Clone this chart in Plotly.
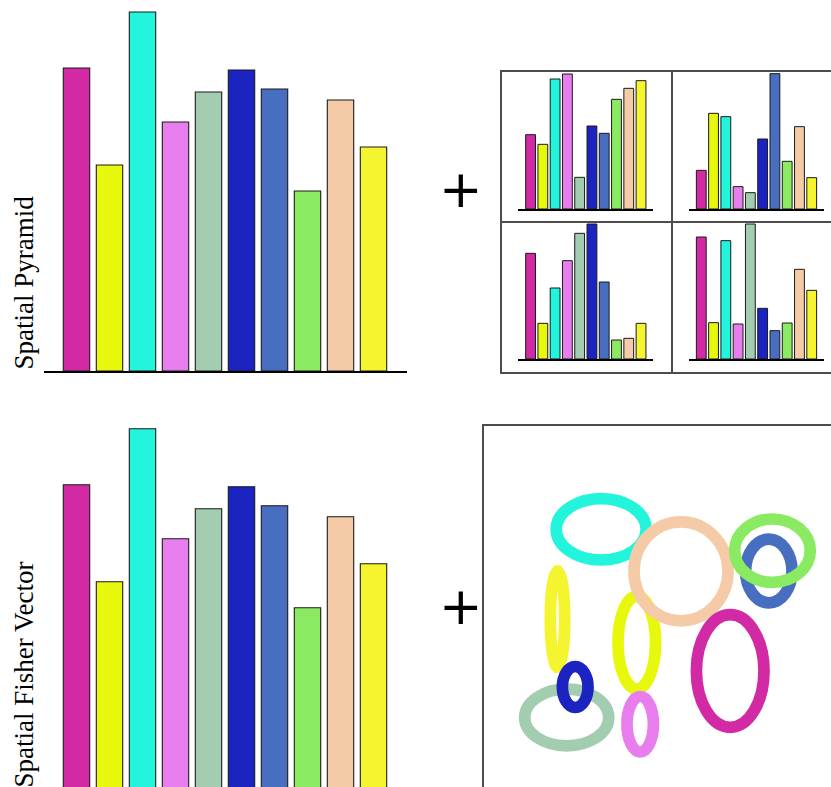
import plotly.graph_objects as go

W, H = 831, 787

# ---- data ----
words = ["w1", "w2", "w3", "w4", "w5", "w6", "w7", "w8", "w9", "w10"]
colors = ["#D12AA4", "#E7F80C", "#22F5DB", "#E87EEE", "#A3CDB0",
          "#1B23C0", "#476EBF", "#8AEB62", "#F5CBA7", "#F4F52E"]

global_hist = [3.03, 2.06, 3.59, 2.49, 2.79, 3.01, 2.82, 1.80, 2.71, 2.24]

cell_tl = [2.23, 1.94, 3.90, 4.05, 0.95, 2.49, 2.27, 3.29, 3.62, 3.85]
cell_tr = [1.16, 2.87, 2.77, 0.67, 0.49, 2.10, 4.06, 1.43, 2.47, 0.94]
cell_bl = [3.17, 1.07, 2.13, 2.95, 3.77, 4.05, 2.31, 0.57, 0.62, 1.07]
cell_br = [3.66, 1.09, 3.55, 1.05, 4.05, 1.52, 0.85, 1.08, 2.69, 2.06]

# Gaussian components (ellipse centre, semi-axes) in a 0..100 box
ell_order = [2, 1, 8, 6, 7, 9, 4, 5, 3, 0]
ell_cx = [68.53, 42.58, 32.69, 43.53, 23.11, 25.47, 79.25, 80.28, 54.86, 20.56]
ell_cy = [31.94, 39.81, 71.31, 17.17, 19.03, 27.50, 59.72, 65.36, 59.64, 46.39]
ell_rx = [9.39, 5.22, 12.50, 3.67, 11.67, 3.56, 6.44, 10.50, 13.06, 2.00]
ell_ry = [15.64, 12.86, 8.53, 7.69, 7.86, 5.69, 8.83, 8.80, 13.75, 13.40]

label_top = "Spatial Pyramid"
label_bottom = "Spatial Fisher Vector"
plus_sign = "+"


def fx(px):
    return px / W


def fy(px):
    return 1 - px / H


fig = go.Figure()
layout = dict(width=W, height=H, margin=dict(l=0, r=0, t=0, b=0),
              paper_bgcolor="white", plot_bgcolor="rgba(0,0,0,0)",
              showlegend=False, bargap=0.2)

hidden = dict(showgrid=False, zeroline=False, showticklabels=False, ticks="")


def add_bars(n, values, xdom, ydom, yrange, baseline=True, lw=1.1):
    xa = "x" if n == 1 else f"x{n}"
    ya = "y" if n == 1 else f"y{n}"
    fig.add_trace(go.Bar(x=words, y=values, xaxis=xa, yaxis=ya,
                         marker=dict(color=colors, line=dict(color="#1a1a1a", width=lw)),
                         hoverinfo="skip"))
    layout["xaxis" if n == 1 else f"xaxis{n}"] = dict(
        domain=xdom, range=[-1, 10], anchor=ya, type="category",
        showline=baseline, linecolor="black", linewidth=1.6, **hidden)
    layout["yaxis" if n == 1 else f"yaxis{n}"] = dict(
        domain=ydom, range=yrange, anchor=xa, showline=False, **hidden)


# big global histograms
add_bars(1, global_hist, [fx(43.5), fx(406.5)], [fy(371), fy(0)], [0, 3.71])
add_bars(2, global_hist, [fx(43.5), fx(406.5)], [0, fy(416.7)], [0.007, 3.71], baseline=False)

# 2x2 spatial pyramid cells
cells = [(cell_tl, 0, 209), (cell_tr, 170.7, 209), (cell_bl, 0, 359), (cell_br, 170.7, 359)]
for i, (vals, dx, base) in enumerate(cells):
    add_bars(3 + i, vals, [fx(518.3 + dx), fx(653.3 + dx)],
             [fy(base), fy(base - 139)], [0, 4.17], lw=1.0)

# pyramid frame (axes lines + gridlines as cell dividers)
fig.add_trace(go.Scatter(x=[], y=[], xaxis="x7", yaxis="y7"))
layout["xaxis7"] = dict(domain=[fx(501.5), 1], range=[0, (W - 501.5) / 170.7], anchor="y7",
                        showline=True, mirror=True, linecolor="#4d4d4d", linewidth=1.5,
                        showgrid=True, tickvals=[1], gridcolor="#4d4d4d", gridwidth=1.5,
                        zeroline=False, showticklabels=False, ticks="")
layout["yaxis7"] = dict(domain=[fy(371.7), fy(71.7)], range=[0, 2], anchor="x7",
                        showline=True, mirror=False, linecolor="#4d4d4d", linewidth=1.5,
                        showgrid=True, tickvals=[1], gridcolor="#4d4d4d", gridwidth=1.5,
                        zeroline=False, showticklabels=False, ticks="")

# Fisher vector box with Gaussian ellipses
fig.add_trace(go.Scatter(x=[], y=[], xaxis="x8", yaxis="y8"))
layout["xaxis8"] = dict(domain=[fx(483.5), 1], range=[0, (W - 483.5) / 3.6], anchor="y8",
                        side="top", showline=True, linecolor="#4d4d4d", linewidth=1.6,
                        **hidden)
layout["yaxis8"] = dict(domain=[0, fy(426)], range=[100 - (H - 426) / 3.6, 100], anchor="x8",
                        showline=True, linecolor="#4d4d4d", linewidth=1.6, **hidden)

shapes = []
for k in ell_order:
    shapes.append(dict(type="circle", xref="x8", yref="y8",
                       x0=ell_cx[k] - ell_rx[k], x1=ell_cx[k] + ell_rx[k],
                       y0=ell_cy[k] - ell_ry[k], y1=ell_cy[k] + ell_ry[k],
                       line=dict(color=colors[k], width=11.7), fillcolor="rgba(0,0,0,0)"))
layout["shapes"] = shapes

serif = "Liberation Serif, Times New Roman, serif"
layout["annotations"] = [
    dict(text=label_top, xref="paper", yref="paper", x=fx(23.5), y=fy(372),
         xanchor="center", yanchor="bottom", textangle=-90, showarrow=False,
         font=dict(family=serif, size=27, color="black")),
    dict(text=label_bottom, xref="paper", yref="paper", x=fx(23.5), y=fy(790),
         xanchor="center", yanchor="bottom", textangle=-90, showarrow=False,
         font=dict(family=serif, size=27, color="black")),
    dict(text=plus_sign, xref="paper", yref="paper", x=fx(460.5), y=fy(189),
         xanchor="center", yanchor="middle", showarrow=False,
         font=dict(family="DejaVu Sans", size=52, color="black")),
    dict(text=plus_sign, xref="paper", yref="paper", x=fx(460.5), y=fy(606),
         xanchor="center", yanchor="middle", showarrow=False,
         font=dict(family="DejaVu Sans", size=52, color="black")),
]

fig.update_layout(**layout)
fig.write_html("out.html", post_script="document.body.style.margin='0';",
               config={"displayModeBar": False})
